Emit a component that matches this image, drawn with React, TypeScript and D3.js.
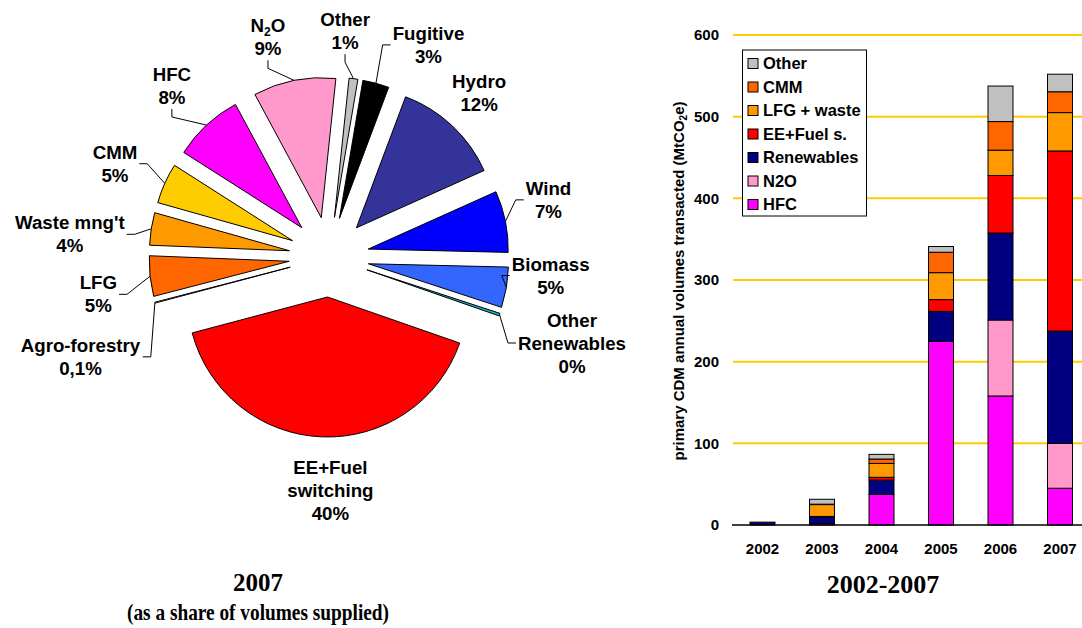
import React, { useEffect, useRef } from 'react';
import * as d3 from 'd3';

const W = 1082;
const H = 628;
const SANS = '"Liberation Sans", Arial, sans-serif';
const SERIF = '"Liberation Serif", "Times New Roman", serif';

// pie: 2007 shares, clockwise from the top
const pieNames = ["Other", "Fugitive", "Hydro", "Wind", "Biomass", "Other\nRenewables", "EE+Fuel\nswitching", "Agro-forestry", "LFG", "Waste mng't", "CMM", "HFC", "N2O"];
const pieShares = [1, 3, 12.4, 7, 4.6, 0.3, 40, 0.1, 4.6, 3.7, 4.6, 8, 9.4];
const pieLabels = ["1%", "3%", "12%", "7%", "5%", "0%", "40%", "0,1%", "5%", "4%", "5%", "8%", "9%"];
const pieColors = ["#C0C0C0", "#000000", "#333399", "#0000FF", "#3366FF", "#22AACC", "#FF0000", "#FFFFFF", "#FF6600", "#FF9900", "#FFCC00", "#FF00FF", "#FF99CC"];
// leader style per label: v = hook under the label, h = hook at its side, "" = none
const pieHooks = ["v", "h", "", "h", "h", "h", "", "h", "h", "h", "h", "v", "v"];
// label nudges away from the default radius (Excel moved some of them)
const labelShift = [[-15, 0], [40, 8], [-6, 2], [-4, -12], [-3, -20], [27, 13], [10, 6], [-28, 42], [-4, 13], [-34, 13], [-6, 0], [-2, -4], [-17, 4]];

// bars: 2002-2007 volumes, MtCO2e
const years = ["2002", "2003", "2004", "2005", "2006", "2007"];
const hfc = [0, 2, 37.5, 225, 158, 45];
const n2o = [0, 0, 0, 0, 93, 55];
const renewables = [3.5, 8, 17.5, 36.6, 106.5, 137.5];
const eeFuel = [0, 0.5, 3.4, 14.4, 70.5, 220.5];
const lfgWaste = [0, 14.5, 17, 33, 31, 47];
const cmm = [0, 0.5, 5.4, 25, 35, 25.5];
const otherBar = [0, 6, 5.7, 7, 43.5, 21.5];
const seriesNames = ["HFC", "N2O", "Renewables", "EE+Fuel s.", "LFG + waste", "CMM", "Other"];
const seriesValues = [hfc, n2o, renewables, eeFuel, lfgWaste, cmm, otherBar];
const seriesColors = ["#FF00FF", "#FF99CC", "#000080", "#FF0000", "#FF9900", "#FF6600", "#C0C0C0"];
const yTicks = [0, 100, 200, 300, 400, 500, 600];

function drawPie(svg) {
	var cx = 329, cy = 257, r = 140, explode = 40, labelR = 228, lh = 23
	var start = 6 * Math.PI / 180
	var arcs = d3.pie().sort(null).value(d => d).startAngle(start).endAngle(start + 2 * Math.PI)(pieShares)
	var arc = d3.arc().innerRadius(0).outerRadius(r)
	var mid = d => (d.startAngle + d.endAngle) / 2
	var dir = a => [Math.sin(a), -Math.cos(a)]

	var g = svg.append("g").attr("transform", "translate(" + cx + "," + cy + ")")

//slices
	g.selectAll("path")
		.data(arcs)
		.join("path")
		.attr("transform", d => {
			var u = dir(mid(d))
			return "translate(" + u[0] * explode + "," + u[1] * explode + ")"
		})
		.attr("d", arc)
		.attr("fill", (d, i) => pieColors[i])
		.attr("stroke", "#000")
		.attr("stroke-width", 1)
		.attr("stroke-linejoin", "round")

//labels + leader lines
	arcs.forEach((d, i) => {
		var u = dir(mid(d))
		var lx = u[0] * labelR + labelShift[i][0]
		var ly = u[1] * labelR + labelShift[i][1]
		var lines = pieNames[i].split("\n").concat(pieLabels[i])
		var top = ly - (lines.length - 1) * lh / 2
		var t = g.append("text")
			.attr("text-anchor", "middle")
			.attr("font-family", SANS)
			.attr("font-weight", "bold")
			.attr("font-size", 18.7)
			.attr("fill", "#000")
		lines.forEach((ln, k) => {
			var ts = t.append("tspan").attr("x", lx).attr("y", top + k * lh).attr("dy", "0.35em")
			if (ln === "N2O") {
				ts.append("tspan").text("N")
				ts.append("tspan").attr("font-size", 12).attr("dy", 4).text("2")
				ts.append("tspan").attr("dy", -4).text("O")
			} else {
				ts.text(ln)
			}
		})
		if (!pieHooks[i]) return
		var bb = t.node().getBBox()
		var px = u[0] * (explode + r), py = u[1] * (explode + r)
		var ex, ey, kx, ky
		if (pieHooks[i] === "v") {
			ex = lx; ey = bb.y + bb.height + 1; kx = ex; ky = ey + 8
		} else {
			var onRight = lx > px
			ex = onRight ? bb.x - 2 : bb.x + bb.width + 2
			ey = ly
			kx = onRight ? ex - 8 : ex + 8
			ky = ey
		}
		g.append("polyline")
			.attr("points", [[px, py], [kx, ky], [ex, ey]].map(p => p.join(",")).join(" "))
			.attr("fill", "none")
			.attr("stroke", "#000")
			.attr("stroke-width", 1)
	})

//titles
	svg.append("text").attr("x", 258).attr("y", 591).attr("text-anchor", "middle")
		.attr("font-family", SERIF).attr("font-weight", "bold").attr("font-size", 25).text("2007")
	svg.append("text").attr("x", 258).attr("y", 620).attr("text-anchor", "middle")
		.attr("font-family", SERIF).attr("font-weight", "bold").attr("font-size", 23)
		.attr("textLength", 262).attr("lengthAdjust", "spacingAndGlyphs")
		.text("(as a share of volumes supplied)")
}

function drawBars(svg) {
	var x = d3.scaleBand().domain(years).range([732.75, 1089.75]).paddingInner(0.58).paddingOuter(0.29)
	var y = d3.scaleLinear().domain([0, 600]).range([525, 35])

//grid
	svg.append("g")
		.selectAll("line")
		.data(yTicks.filter(v => v > 0))
		.join("line")
		.attr("x1", 733).attr("x2", W)
		.attr("y1", d => y(d)).attr("y2", d => y(d))
		.attr("stroke", "#FFCC00")
		.attr("stroke-width", 2)

//y tick labels
	svg.append("g")
		.selectAll("text")
		.data(yTicks)
		.join("text")
		.attr("x", 719).attr("y", d => y(d)).attr("dy", "0.35em")
		.attr("text-anchor", "end")
		.attr("font-family", SANS).attr("font-weight", "bold").attr("font-size", 15)
		.text(d => d)

//stacked bars
	var rows = years.map((yr, j) => {
		var o = { year: yr }
		seriesNames.forEach((s, k) => { o[s] = seriesValues[k][j] })
		return o
	})
	var stacked = d3.stack().keys(seriesNames)(rows)
	svg.append("g")
		.selectAll("g")
		.data(stacked)
		.join("g")
		.attr("fill", (s, k) => seriesColors[k])
		.selectAll("rect")
		.data(s => s.filter(p => p[1] - p[0] > 0))
		.join("rect")
		.attr("x", p => x(p.data.year))
		.attr("width", x.bandwidth())
		.attr("y", p => y(p[1]))
		.attr("height", p => y(p[0]) - y(p[1]))
		.attr("stroke", "#000")
		.attr("stroke-width", 1)

//x axis
	svg.append("line").attr("x1", 732).attr("x2", W).attr("y1", y(0)).attr("y2", y(0))
		.attr("stroke", "#000").attr("stroke-width", 1.5)
	svg.append("g")
		.selectAll("text")
		.data(years)
		.join("text")
		.attr("x", d => x(d) + x.bandwidth() / 2).attr("y", 554)
		.attr("text-anchor", "middle")
		.attr("font-family", SANS).attr("font-weight", "bold").attr("font-size", 15)
		.text(d => d)

//y title
	var yt = svg.append("text")
		.attr("transform", "translate(684,281) rotate(-90)")
		.attr("text-anchor", "middle")
		.attr("font-family", SANS).attr("font-weight", "bold").attr("font-size", 15)
	yt.append("tspan").text("primary CDM annual volumes transacted (MtCO")
	yt.append("tspan").attr("font-size", 10).attr("dy", 3).text("2")
	yt.append("tspan").attr("dy", -3).text("e)")

//legend
	var lg = svg.append("g")
	lg.append("rect").attr("x", 742.5).attr("y", 50).attr("width", 124).attr("height", 166)
		.attr("fill", "#fff").attr("stroke", "#000").attr("stroke-width", 1)
	var items = seriesNames.map((s, k) => ({ name: s, color: seriesColors[k] })).reverse()
	var row = lg.selectAll("g.item")
		.data(items)
		.join("g")
		.attr("transform", (d, i) => "translate(748," + (63.5 + i * 23.5) + ")")
	row.append("rect").attr("x", 0).attr("y", -5).attr("width", 10).attr("height", 10)
		.attr("fill", d => d.color).attr("stroke", "#000").attr("stroke-width", 1)
	row.append("text").attr("x", 15).attr("dy", "0.35em")
		.attr("font-family", SANS).attr("font-weight", "bold").attr("font-size", 16.5)
		.text(d => d.name)

	svg.append("text").attr("x", 883).attr("y", 593).attr("text-anchor", "middle")
		.attr("font-family", SERIF).attr("font-weight", "bold").attr("font-size", 26).text("2002-2007")
}

function Charts() {
	const ref = useRef(null);
	useEffect(() => {
		var svg = d3.select(ref.current)
		svg.selectAll("*").remove()
		drawPie(svg)
		drawBars(svg)
	}, []);
	return (
		<svg ref={ref} width={W} height={H} style={{ position: 'absolute', left: 0, top: 0, background: '#fff' }} />
	);
}

export default function App() {
	return <Charts />;
}
